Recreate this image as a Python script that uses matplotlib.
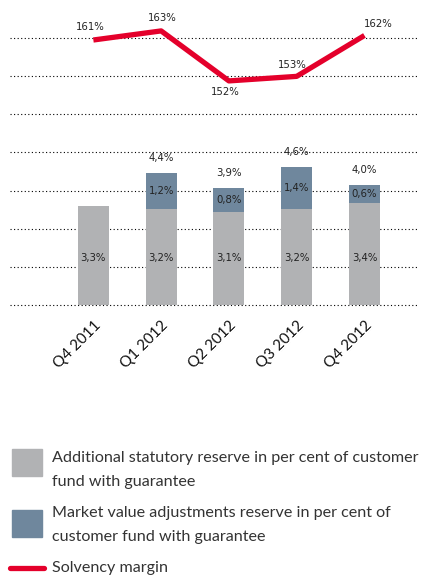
import numpy as np
import matplotlib
matplotlib.use('Agg')
import matplotlib.pyplot as plt
import matplotlib.transforms as mtransforms
from matplotlib.patches import Rectangle
from matplotlib.lines import Line2D

quarters = ['Q4 2011', 'Q1 2012', 'Q2 2012', 'Q3 2012', 'Q4 2012']
statutory = [3.3, 3.2, 3.1, 3.2, 3.4]
market_adj = [0.0, 1.2, 0.8, 1.4, 0.6]
totals = [None, '4,4%', '3,9%', '4,6%', '4,0%']
solvency = [161, 163, 152, 153, 162]

GREY = '#b1b2b4'
BLUE = '#6f879d'
RED = '#e4002b'


def pct(v):
    return '{:.1f}%'.format(v).replace('.', ',')


fig = plt.figure(figsize=(4.21, 5.77), dpi=100)
ax = fig.add_axes([10 / 421, 270 / 577, 408 / 421, 297 / 577])
x = np.arange(len(quarters))

ax.bar(x, statutory, width=0.46, color=GREY, zorder=2)
ax.bar(x, market_adj, width=0.46, bottom=statutory, color=BLUE, zorder=2)
ax.set_xlim(-1.23, 4.79)
ax.set_ylim(-2 / 30, 295 / 30)

# dotted grid lines
ax.set_yticks(np.linspace(0, 267 / 30, 8))
ax.yaxis.grid(True, color='black', linestyle=(0, (1, 2.2)), linewidth=0.8, zorder=0)
ax.tick_params(axis='y', length=0, labelleft=False)
for s in ax.spines.values():
    s.set_visible(False)

ax.set_xticks(x)
ax.set_xticklabels(quarters, rotation=45, ha='right', va='center', rotation_mode='anchor',
                   family='Lato', fontsize=11, color='#111111')
ax.tick_params(axis='x', length=0, pad=12)
off = mtransforms.ScaledTranslation(5 / 100, 0, fig.dpi_scale_trans)
for lbl in ax.get_xticklabels():
    lbl.set_transform(lbl.get_transform() + off)

lab_kw = dict(ha='center', va='center', fontsize=7.3, family='DejaVu Sans', color='#222222', zorder=4)
for i in range(len(quarters)):
    ax.text(x[i], 1.55, pct(statutory[i]), **lab_kw)
    if market_adj[i] > 0:
        ax.text(x[i], statutory[i] + market_adj[i] / 2, pct(market_adj[i]), **lab_kw)
    if totals[i]:
        ax.text(x[i], statutory[i] + market_adj[i] + 0.5, totals[i], **lab_kw)

ax2 = ax.twinx()
ax2.set_ylim(102.7 - 2 / 4.545, 167.6)
ax2.axis('off')
ax2.plot(x, solvency, color=RED, linewidth=3.8, solid_capstyle='butt', clip_on=False, zorder=3)
lbl_off = [(-3, 13), (1, 13), (-4, -11), (-4, 11), (14, 11)]
for i, v in enumerate(solvency):
    ax2.annotate('{}%'.format(v), (x[i], v), xytext=lbl_off[i], textcoords='offset pixels',
                 ha='center', va='center', fontsize=7.3, family='DejaVu Sans', color='#222222')

# legend
leg_kw = dict(family='Lato', fontsize=11.6, color='#333333', va='center', ha='left')
fig.add_artist(Rectangle((12 / 421, 1 - 476 / 577), 30 / 421, 27 / 577,
                         transform=fig.transFigure, color=GREY))
fig.text(52 / 421, 1 - 458 / 577, 'Additional statutory reserve in per cent of customer', **leg_kw)
fig.text(52 / 421, 1 - 482 / 577, 'fund with guarantee', **leg_kw)
fig.add_artist(Rectangle((12 / 421, 1 - 537 / 577), 30 / 421, 27 / 577,
                         transform=fig.transFigure, color=BLUE))
fig.text(52 / 421, 1 - 513 / 577, 'Market value adjustments reserve in per cent of', **leg_kw)
fig.text(52 / 421, 1 - 537 / 577, 'customer fund with guarantee', **leg_kw)
fig.add_artist(Line2D([10 / 421, 44 / 421], [1 - 568 / 577] * 2, transform=fig.transFigure,
                      color=RED, linewidth=3.8, solid_capstyle='round'))
fig.text(52 / 421, 1 - 568 / 577, 'Solvency margin', **leg_kw)

fig.savefig('out.png', dpi=100)
